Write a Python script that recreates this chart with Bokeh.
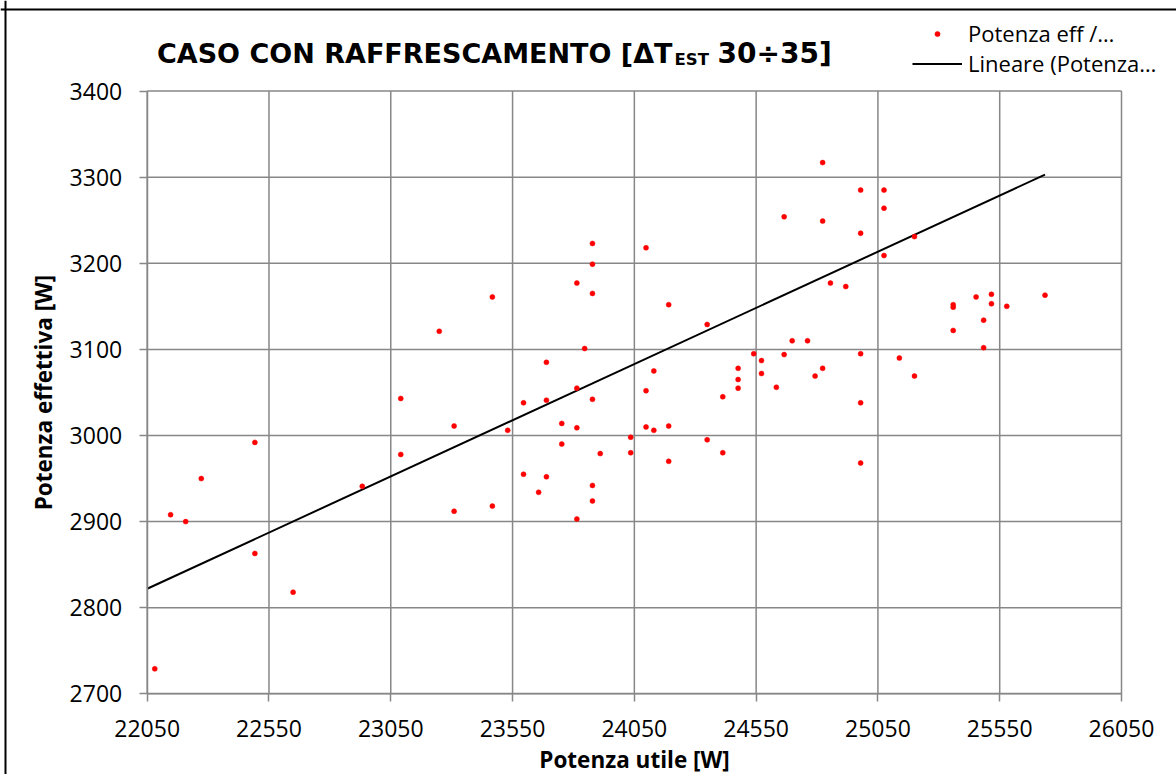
from bokeh.plotting import figure
from bokeh.models import (Range1d, FixedTicker, Label, Legend, LegendItem,
                          LinearAxis, Span, BasicTickFormatter)
from bokeh.embed import file_html
from bokeh.resources import INLINE

# ---- data ----
potenza_utile = [
    22081, 22146, 22208, 22272, 22492, 22492, 22649, 22933, 23091, 23091,
    23310, 23310, 23249, 23878, 24098, 23878, 23814, 23878, 24191, 23467,
    24349, 23846, 23689, 24130, 23814, 24098, 23878, 23595, 23689, 23530,
    23752, 23814, 24098, 24130, 24191, 24035, 23752, 23910, 24035, 24349,
    24191, 23595, 23689, 23878, 23657, 23878, 23467, 23814, 24823, 24979,
    25075, 25075, 24665, 24823, 24979, 25075, 25200, 24855, 24918, 24698,
    24761, 24540, 24572, 24665, 24979, 25138, 25200, 24476, 24476, 24476,
    24572, 24633, 24792, 24823, 24413, 24979, 24413, 24979, 25453, 25516,
    25359, 25359, 25516, 25579, 25736, 25484, 25359, 25484,
]
potenza_effettiva = [
    2729, 2908, 2900, 2950, 2992, 2863, 2818, 2941, 3043, 2978,
    3011, 2912, 3121, 3223, 3218, 3199, 3177, 3165, 3152, 3161,
    3129, 3101, 3085, 3075, 3055, 3052, 3042, 3038, 3041, 3006,
    3014, 3009, 3010, 3006, 3011, 2998, 2990, 2979, 2980, 2995,
    2970, 2955, 2952, 2942, 2934, 2924, 2918, 2903, 3317, 3285,
    3285, 3264, 3254, 3249, 3235, 3209, 3231, 3177, 3173, 3110,
    3110, 3095, 3087, 3094, 3095, 3090, 3069, 3078, 3065, 3055,
    3072, 3056, 3069, 3078, 3045, 3038, 2980, 2968, 3161, 3164,
    3152, 3149, 3153, 3150, 3163, 3134, 3122, 3102,
]
trend_x = [22050, 25736]
trend_y = [2822, 3303]
x_ticks = [22050, 22550, 23050, 23550, 24050, 24550, 25050, 25550, 26050]
y_ticks = [2700, 2800, 2900, 3000, 3100, 3200, 3300, 3400]

title_main = "CASO CON RAFFRESCAMENTO [\u0394T"
title_sub = "EST"
title_tail = "30\u00f735]"
x_label = "Potenza utile [W]"
y_label = "Potenza effettiva [W]"
legend_labels = ["Potenza eff /\u2026", "Lineare (Potenza\u2026"]

# ---- layout (page pixels) ----
W, H = 1176, 774
PX_L, PX_R = 146.7, 1121.0      # x = first / last tick
PY_T, PY_B = 90.6, 693.3        # y = last / first tick
sx = (x_ticks[-1] - x_ticks[0]) / (PX_R - PX_L)
sy = (y_ticks[-1] - y_ticks[0]) / (PY_B - PY_T)
x0 = x_ticks[0] - PX_L * sx
y1 = y_ticks[-1] + PY_T * sy

GRID = "#878787"
FONT = "Open Sans"
TFONT = "DejaVu Sans"

p = figure(width=W, height=H, output_backend="svg", toolbar_location=None,
           x_axis_type=None, y_axis_type=None,
           x_range=Range1d(x0, x0 + W * sx), y_range=Range1d(y1 - H * sy, y1),
           min_border=0, min_border_left=0, min_border_right=0,
           min_border_top=0, min_border_bottom=0)
p.background_fill_color = "white"
p.border_fill_color = "white"
p.outline_line_color = None

# grid lines of the plot area
n_x, n_y = len(x_ticks), len(y_ticks)
p.segment(x0=x_ticks, y0=[y_ticks[0]] * n_x, x1=x_ticks, y1=[y_ticks[-1]] * n_x,
          line_color=GRID, line_width=1.5)
p.segment(x0=[x_ticks[0]] * n_y, y0=y_ticks, x1=[x_ticks[-1]] * n_y, y1=y_ticks,
          line_color=GRID, line_width=1.5)

xaxis = LinearAxis(fixed_location=y_ticks[0], bounds=(x_ticks[0], x_ticks[-1]),
                   ticker=FixedTicker(ticks=x_ticks), axis_label=x_label)
yaxis = LinearAxis(fixed_location=x_ticks[0], bounds=(y_ticks[0], y_ticks[-1]),
                   ticker=FixedTicker(ticks=y_ticks), axis_label=y_label)
for ax in (xaxis, yaxis):
    ax.formatter = BasicTickFormatter(use_scientific=False)
    ax.axis_line_color = GRID
    ax.axis_line_width = 1.5
    ax.major_tick_line_color = GRID
    ax.major_tick_line_width = 1.5
    ax.major_tick_out = 8
    ax.major_tick_in = 0
    ax.minor_tick_line_color = None
    ax.major_label_text_font = FONT
    ax.major_label_text_font_size = "23px"
    ax.major_label_text_color = "black"
    ax.axis_label_text_font = FONT
    ax.axis_label_text_font_size = "22.5px"
    ax.axis_label_text_font_style = "bold"
    ax.axis_label_text_color = "black"
xaxis.major_label_standoff = 18
yaxis.major_label_standoff = 17
xaxis.axis_label_standoff = 4
yaxis.axis_label_standoff = 8
p.add_layout(xaxis, "below")
p.add_layout(yaxis, "left")

r_line = p.line(trend_x, trend_y, line_color="black", line_width=2)
r_pts = p.scatter(potenza_utile, potenza_effettiva, size=5, fill_color="red",
                  line_color="red", line_width=0.5)

# outer chart border (left and top edges visible in the reference)
p.add_layout(Span(location=x0 + 5 * sx, dimension="height",
                  line_color="black", line_width=2))
p.add_layout(Span(location=y1 - 9 * sy, dimension="width",
                  line_color="black", line_width=2))

# legend: glyph box 13 px tall (marker = 0.4 * 13 px), rows ~30 px from text height
legend = Legend(items=[LegendItem(label=legend_labels[0], renderers=[r_pts]),
                       LegendItem(label=legend_labels[1], renderers=[r_line])],
                location=(912, H - 78), border_line_color=None,
                background_fill_alpha=0, padding=0, margin=0, spacing=0,
                glyph_width=50, glyph_height=13, label_height=13,
                label_standoff=6, label_text_font=FONT,
                label_text_font_size="22px", label_text_color="black")
p.add_layout(legend)

p.add_layout(Label(x=672, y=H - 53, x_units="screen", y_units="screen",
                   text=title_main, text_align="right", text_baseline="alphabetic",
                   text_font=TFONT, text_font_style="bold", text_font_size="27px",
                   text_color="black"))
p.add_layout(Label(x=674, y=H - 59, x_units="screen", y_units="screen",
                   text=title_sub, text_align="left", text_baseline="alphabetic",
                   text_font=TFONT, text_font_style="bold", text_font_size="16.5px",
                   text_color="black"))
p.add_layout(Label(x=717, y=H - 53, x_units="screen", y_units="screen",
                   text=title_tail, text_align="left", text_baseline="alphabetic",
                   text_font=TFONT, text_font_style="bold", text_font_size="28px",
                   text_color="black"))

open("out.html", "w").write(file_html(p, INLINE))
